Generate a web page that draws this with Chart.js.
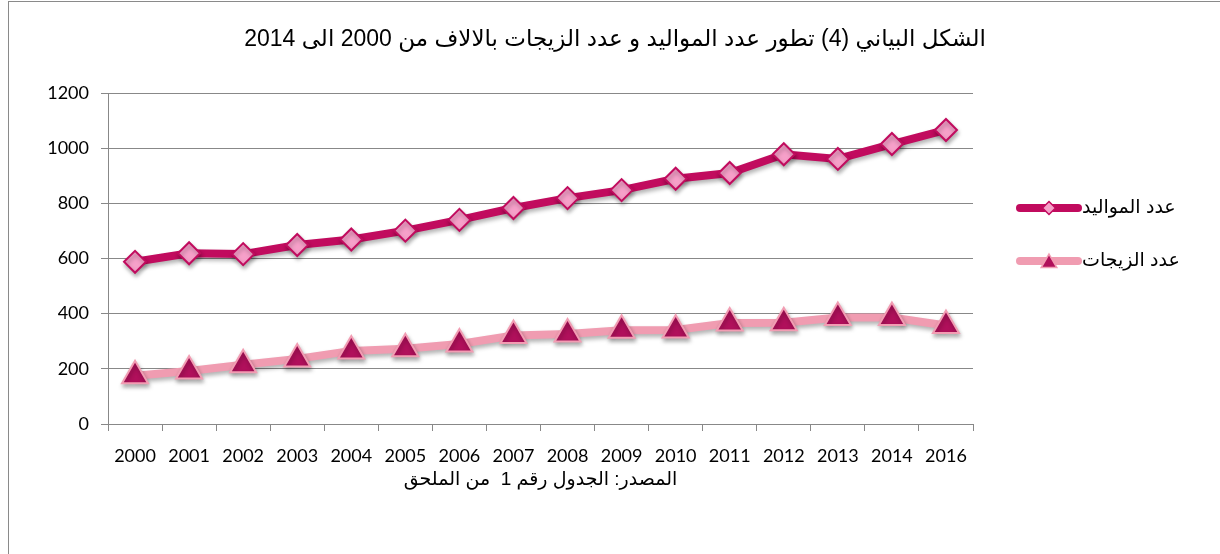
<!DOCTYPE html>
<html>
<head>
<meta charset="utf-8">
<script src="https://cdn.jsdelivr.net/npm/chart.js@4/dist/chart.umd.min.js"></script>
<style>
    html, body { margin: 0; padding: 0; background: #fff; overflow: hidden; }
    #wrap { position: relative; width: 1220px; height: 554px; }
    #frame { position: absolute; left: 8px; top: 1px; width: 1400px; height: 800px; border: 1px solid #8a8a8a; box-sizing: border-box; }
    canvas { position: absolute; left: 0; top: 0; }
</style>
</head>
<body>
<div id="wrap">
    <div id="frame"></div>
    <canvas id="chart" width="1220" height="554"></canvas>
</div>
<script>
// Data
const years = ['2000', '2001', '2002', '2003', '2004', '2005', '2006', '2007', '2008', '2009', '2010', '2011', '2012', '2013', '2014', '2016'];
const births = [588, 619, 616, 649, 669, 701, 740, 783, 819, 848, 889, 910, 978, 961, 1015, 1066];
const marriages = [175, 192, 215, 236, 265, 273, 290, 321, 326, 340, 341, 366, 367, 386, 386, 357];
const seriesNames = ['عدد المواليد', 'عدد الزيجات'];
const chartTitle = 'الشكل البياني (4) تطور عدد المواليد و عدد الزيجات بالالاف من 2000 الى 2014';
const sourceNote = 'المصدر: الجدول رقم 1  من الملحق';

const arabicFont = 'Arial, "Liberation Sans", "DejaVu Sans", sans-serif';
const numFont = 'Lato, Calibri, "Open Sans", sans-serif';
const gridColor = '#888888';

// Soft shadow under lines and markers, like the office chart
const shadowPlugin = {
    id: 'shadow',
    beforeDatasetsDraw(chart) {
        const ctx = chart.ctx;
        ctx.save();
        ctx.shadowColor = 'rgba(0,0,0,0.30)';
        ctx.shadowBlur = 4;
        ctx.shadowOffsetX = 1;
        ctx.shadowOffsetY = 3;
    },
    afterDatasetsDraw(chart) {
        chart.ctx.restore();
    }
};

// Title centred on the whole canvas (the built-in one ignores the legend space)
const pageTitle = {
    id: 'pageTitle',
    afterDraw(chart) {
        const ctx = chart.ctx;
        ctx.save();
        ctx.fillStyle = '#000';
        ctx.font = '23px ' + arabicFont;
        ctx.textAlign = 'center';
        ctx.textBaseline = 'middle';
        ctx.fillText(chartTitle, chart.width / 2 + 5, 40);
        ctx.restore();
    }
};

// Legend on the right: line sample with marker in the middle, then the label
const sideLegend = {
    id: 'sideLegend',
    afterDraw(chart) {
        const ctx = chart.ctx;
        const area = chart.chartArea;
        const rows = [115, 168];
        chart.data.datasets.forEach((ds, i) => {
            const y = area.top + rows[i];
            const x0 = area.right + 47;
            const x1 = x0 + 58;
            ctx.save();
            ctx.strokeStyle = ds.borderColor;
            ctx.lineWidth = ds.borderWidth;
            ctx.lineCap = 'round';
            ctx.beginPath();
            ctx.moveTo(x0, y);
            ctx.lineTo(x1, y);
            ctx.stroke();
            ctx.fillStyle = ds.pointBackgroundColor;
            ctx.strokeStyle = ds.pointBorderColor;
            ctx.lineWidth = 1.5;
            Chart.helpers.drawPoint(ctx, {
                pointStyle: ds.pointStyle,
                radius: ds.pointStyle === 'triangle' ? 9 : 6.5,
                rotation: 0,
                borderWidth: 1.5
            }, (x0 + x1) / 2, ds.pointStyle === 'triangle' ? y + 2 : y);
            ctx.fillStyle = '#000';
            ctx.font = '19px ' + arabicFont;
            ctx.textAlign = 'left';
            ctx.textBaseline = 'middle';
            ctx.fillText(ds.label, x1 + 4, y);
            ctx.restore();
        });
    }
};

const ctx = document.getElementById('chart').getContext('2d');
new Chart(ctx, {
    type: 'line',
    data: {
        labels: years,
        datasets: [
            {
                label: seriesNames[0],
                data: births,
                borderColor: '#C10B5E',
                borderWidth: 8,
                pointStyle: 'rectRot',
                pointRadius: 11,
                pointBorderWidth: 2,
                pointBackgroundColor: '#F6A0C9',
                pointBorderColor: '#C10B5E',
                tension: 0,
                fill: false
            },
            {
                label: seriesNames[1],
                data: marriages,
                borderColor: '#F09CB1',
                borderWidth: 8,
                pointStyle: 'triangle',
                pointRadius: 15,
                pointBorderWidth: 2,
                pointBackgroundColor: '#B0105B',
                pointBorderColor: '#F29DB3',
                tension: 0,
                fill: false
            }
        ]
    },
    options: {
        responsive: false,
        animation: false,
        layout: { padding: { left: 0, right: 247, top: 93, bottom: 0 } },
        plugins: {
            legend: { display: false },
            tooltip: { enabled: false },
            title: { display: false }
        },
        scales: {
            x: {
                offset: true,
                grid: { display: true, drawOnChartArea: false, offset: true, tickLength: 7, color: gridColor },
                border: { display: true, color: gridColor, width: 1 },
                ticks: { color: '#000', font: { family: numFont, size: 18 }, padding: 14, maxRotation: 0, autoSkip: false },
                title: {
                    display: true,
                    text: sourceNote,
                    color: '#000',
                    font: { family: arabicFont, size: 19, lineHeight: 1.2 },
                    padding: { top: 0, bottom: 63 }
                },
                afterFit(scale) { scale.height = 130; }
            },
            y: {
                min: 0,
                max: 1200,
                ticks: {
                    stepSize: 200,
                    color: '#000',
                    font: { family: numFont, size: 18 },
                    padding: 12,
                    callback: value => String(value)
                },
                grid: { color: gridColor, tickLength: 7, lineWidth: 1 },
                border: { display: true, color: gridColor, width: 1 },
                afterFit(scale) { scale.width = 108; }
            }
        }
    },
    plugins: [shadowPlugin, sideLegend, pageTitle]
});
</script>
</body>
</html>
